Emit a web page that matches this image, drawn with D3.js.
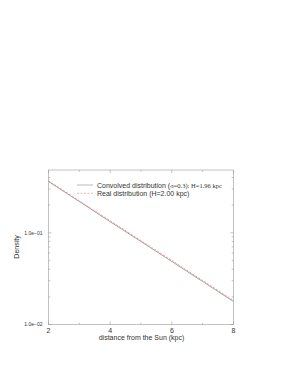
<!DOCTYPE html>
<html><head><meta charset="utf-8">
<script src="https://cdn.jsdelivr.net/npm/d3@7"></script>
<style>body{margin:0;background:#fff}svg{display:block}</style>
</head><body>
<script>
const distance = [2, 3, 4, 5, 6, 7, 8];
const convolved = [0.362, 0.219, 0.132, 0.0802, 0.0486, 0.0294, 0.0178];
const real = [0.368, 0.223, 0.135, 0.0821, 0.0498, 0.0302, 0.0183];
const xTicks = [2, 4, 6, 8];
const xMinor = [3, 5, 7];
const yTicks = [0.01, 0.1];
const yTickLabels = ["1.0e\u221202", "1.0e\u221201"];
const legendNames = ["Convolved distribution (", "Real distribution (H=2.00 kpc)"];

const W = 282, H = 365;
const m = {l: 48.5, r: 233.5, t: 170, b: 324.5};
const svg = d3.select("body").append("svg").attr("width", W).attr("height", H);
const x = d3.scaleLinear().domain([2, 8]).range([m.l, m.r]);
const y = d3.scaleLog().domain([0.01, 0.483]).range([m.b, m.t]);
const frame = "#9a9a9a", font = "Liberation Sans, Arial, sans-serif";

svg.append("rect").attr("x", m.l).attr("y", m.t).attr("width", m.r - m.l).attr("height", m.b - m.t)
  .attr("fill", "none").attr("stroke", frame).attr("stroke-width", 0.6);

const tl = 3, tm = 1.8;
const g = svg.append("g").attr("stroke", frame).attr("stroke-width", 0.6);
xTicks.concat(xMinor).forEach(v => {
  const len = xTicks.includes(v) ? tl : tm;
  g.append("line").attr("x1", x(v)).attr("x2", x(v)).attr("y1", m.b).attr("y2", m.b - len);
  g.append("line").attr("x1", x(v)).attr("x2", x(v)).attr("y1", m.t).attr("y2", m.t + len);
});
const yMinor = [];
[0.01, 0.1].forEach(b => { for (let k = 2; k <= 9; k++) { const v = b * k; if (v < 0.483) yMinor.push(v); } });
yTicks.forEach(v => {
  g.append("line").attr("x1", m.l).attr("x2", m.l + tl).attr("y1", y(v)).attr("y2", y(v));
  g.append("line").attr("x1", m.r).attr("x2", m.r - tl).attr("y1", y(v)).attr("y2", y(v));
});
yMinor.forEach(v => {
  g.append("line").attr("x1", m.l).attr("x2", m.l + tm).attr("y1", y(v)).attr("y2", y(v));
  g.append("line").attr("x1", m.r).attr("x2", m.r - tm).attr("y1", y(v)).attr("y2", y(v));
});

xTicks.forEach(v => svg.append("text").attr("x", x(v)).attr("y", m.b + 8)
  .attr("text-anchor", "middle").attr("font-family", font).attr("font-size", 7).attr("fill", "#333").text(v));
yTicks.forEach((v, i) => svg.append("text").attr("x", m.l - 6).attr("y", y(v) + 1.8)
  .attr("text-anchor", "end").attr("font-family", font).attr("font-size", 5).attr("fill", "#333").text(yTickLabels[i]));

svg.append("text").attr("x", 141.5).attr("y", 340).attr("text-anchor", "middle")
  .attr("font-family", font).attr("font-size", 7).attr("fill", "#333").text("distance from the Sun (kpc)");
svg.append("text").attr("transform", "translate(18.5,247) rotate(-90)").attr("text-anchor", "middle")
  .attr("font-family", font).attr("font-size", 7).attr("fill", "#333").text("Density");

const line = d3.line().x((d, i) => x(distance[i])).y(d => y(d));
svg.append("path").datum(convolved).attr("d", line).attr("fill", "none").attr("stroke", "#8a8a8a").attr("stroke-width", 0.8);
svg.append("path").datum(real).attr("d", line).attr("fill", "none").attr("stroke", "#f08080")
  .attr("stroke-width", 0.8).attr("stroke-dasharray", "2,1.5");

// legend
const lx1 = 77, lx2 = 93, tx = 97;
svg.append("line").attr("x1", lx1).attr("x2", lx2).attr("y1", 185).attr("y2", 185).attr("stroke", "#8a8a8a").attr("stroke-width", 0.6);
svg.append("line").attr("x1", lx1).attr("x2", lx2).attr("y1", 193.3).attr("y2", 193.3).attr("stroke", "#f08080").attr("stroke-width", 0.6).attr("stroke-dasharray", "2,1.5");
const t1 = svg.append("text").attr("x", tx).attr("y", 187.5).attr("font-family", font).attr("font-size", 7).attr("fill", "#333");
t1.append("tspan").text(legendNames[0]);
t1.append("tspan").attr("font-family", "Liberation Serif, Times New Roman, serif").attr("font-size", 6.5).text("\u03c3=0.3): H=1.96 kpc");
svg.append("text").attr("x", tx).attr("y", 195.8).attr("font-family", font).attr("font-size", 7).attr("fill", "#333").text(legendNames[1]);
</script>
</body></html>
